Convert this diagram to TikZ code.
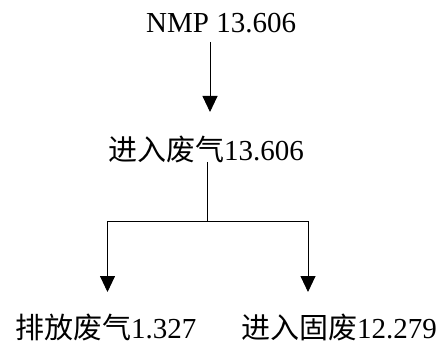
\documentclass[tikz,border=0pt]{standalone}
\usepackage{fontspec}
\setmainfont{Liberation Serif}
\newfontfamily\cjk{Noto Sans CJK SC}
\usetikzlibrary{arrows.meta}
\tikzset{
  lbl/.style={inner sep=0pt, anchor=base west, font=\fontsize{29}{30}\selectfont},
  arr/.style={line width=0.9pt, -{Triangle[length=16pt,width=15pt]}},
  ln/.style={line width=0.9pt}
}
\begin{document}
\begin{tikzpicture}[x=1pt,y=-1pt]
\useasboundingbox (0,0) rectangle (443,352);
\node[lbl] (top) at (146,33) {NMP 13.606};
\node[lbl] (mid) at (108,161) {{\cjk 进入废气}13.606};
\node[lbl] (left) at (15,338) {{\cjk 排放废气}1.327};
\node[lbl] (right) at (241,338) {{\cjk 进入固废}12.279};
\coordinate (a1s) at (210,42);
\coordinate (a1e) at (210,112);
\coordinate (b0) at (207,162);
\coordinate (b1) at (207,221);
\coordinate (bl) at (107.5,221);
\coordinate (br) at (308,221);
\coordinate (blE) at (107.5,292);
\coordinate (brE) at (308,292);
\draw[arr] (a1s) -- (a1e);
\draw[ln] (b0) -- (b1);
\draw[ln] (bl) -- (br);
\draw[arr] (bl) -- (blE);
\draw[arr] (br) -- (brE);
\end{tikzpicture}
\end{document}
